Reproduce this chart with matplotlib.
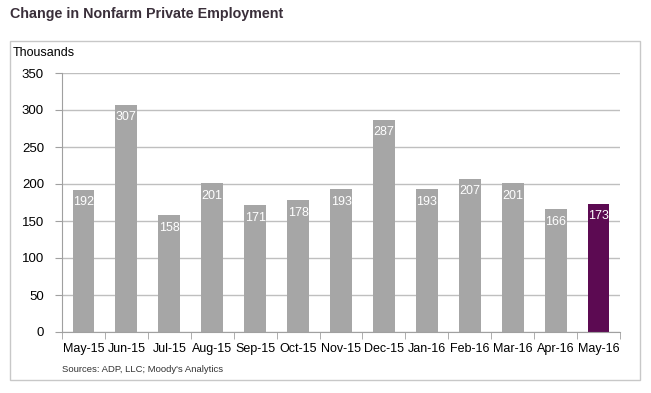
import numpy as np
import matplotlib.pyplot as plt
from matplotlib.patches import Rectangle

plt.rcParams['font.family'] = ['Liberation Sans', 'DejaVu Sans']

months = ['May-15', 'Jun-15', 'Jul-15', 'Aug-15', 'Sep-15', 'Oct-15', 'Nov-15',
          'Dec-15', 'Jan-16', 'Feb-16', 'Mar-16', 'Apr-16', 'May-16']
jobs = [192, 307, 158, 201, 171, 178, 193, 287, 193, 207, 201, 166, 173]

gray = '#a6a6a6'
purple = '#5c0a52'
colors = [gray] * (len(jobs) - 1) + [purple]

fig = plt.figure(figsize=(6.51, 3.93), dpi=100)

# outer chart border
fig.patches.append(Rectangle((10/651, 13/393), 630/651, 339/393, transform=fig.transFigure,
                             fill=False, edgecolor='#c8c8c8', linewidth=1))

ax = fig.add_axes([62/651, 61/393, 558/651, 259/393])
x = np.arange(len(months))
bars = ax.bar(x, jobs, width=0.51, color=colors, zorder=2)

for xi, v in zip(x, jobs):
    ax.annotate(str(v), (xi, v), xytext=(0, -9), textcoords='offset points',
                ha='center', va='center', color='white', fontsize=9, zorder=3)

ax.set_xlim(-0.5, len(months) - 0.5)
ax.set_ylim(0, 350)
ax.set_yticks(range(0, 351, 50))
ax.yaxis.grid(True, color='#bfbfbf', linewidth=1, zorder=0)
ax.set_axisbelow(True)

ax.set_xticks(x)
ax.set_xticklabels(months, fontsize=9)
ax.set_xticks(np.arange(-0.5, len(months), 1), minor=True)
ax.tick_params(axis='x', which='major', length=0, pad=8)
ax.tick_params(axis='x', which='minor', length=5, color='#a0a0a0')
ax.tick_params(axis='y', length=5, color='#a0a0a0', labelsize=9.5, pad=8)

for s in ['top', 'right']:
    ax.spines[s].set_visible(False)
ax.spines['left'].set_color('#a0a0a0')
ax.spines['bottom'].set_color('#a0a0a0')

fig.text(10/651, 1 - 14/393, 'Change in Nonfarm Private Employment', fontsize=10.3,
         fontweight='bold', color='#3a2f3a', va='center', ha='left')
fig.text(13/651, 1 - 53/393, 'Thousands', fontsize=9, color='black', va='center', ha='left')
fig.text(62/651, 1 - 369/393, "Sources: ADP, LLC; Moody's Analytics", fontsize=6.8,
         color='#333333', va='center', ha='left')

fig.savefig('out.png', dpi=100)
